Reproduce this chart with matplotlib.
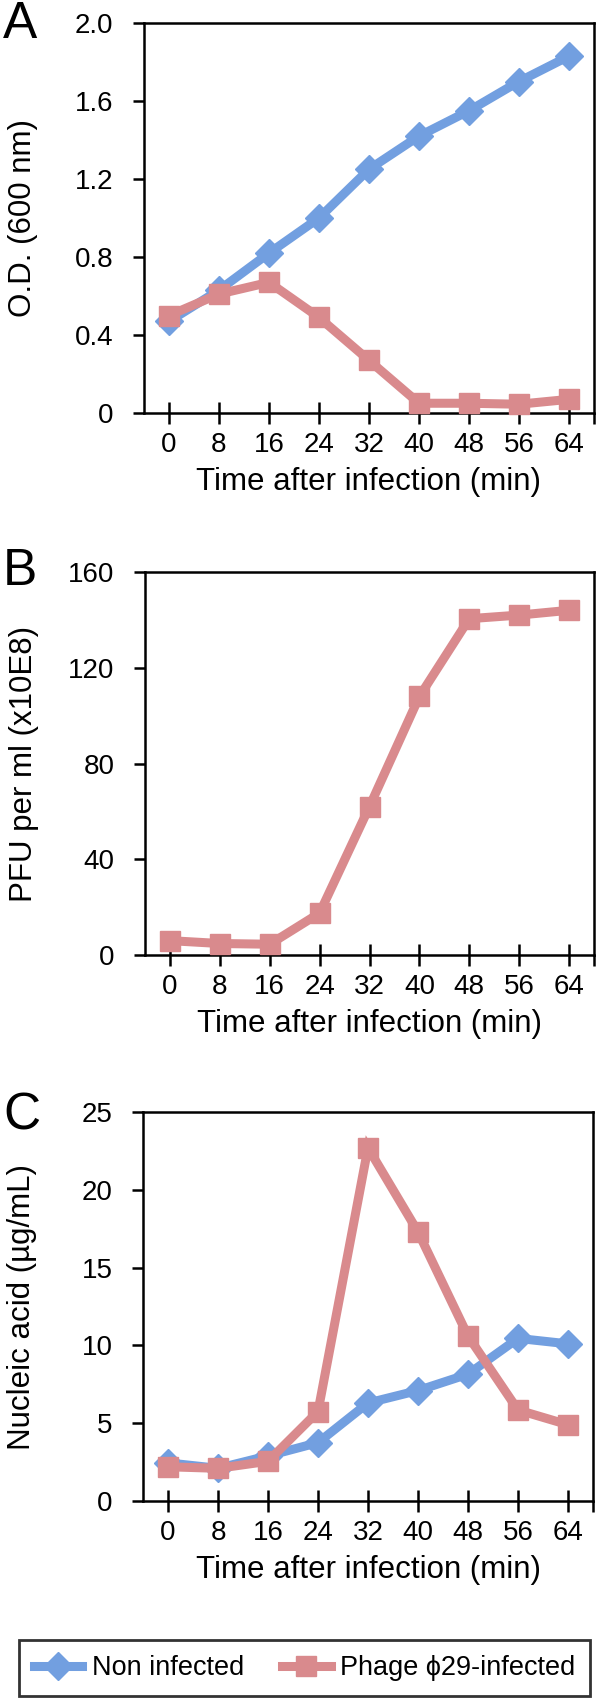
import matplotlib
matplotlib.use("Agg")
import matplotlib.pyplot as plt
from matplotlib.lines import Line2D

plt.rcParams['font.family'] = ['Liberation Sans', 'DejaVu Sans']

# ---- data ----
time_min = [0, 8, 16, 24, 32, 40, 48, 56, 64]
od_non_infected = [0.47, 0.63, 0.82, 1.00, 1.25, 1.42, 1.55, 1.70, 1.83]
od_phage = [0.50, 0.61, 0.67, 0.49, 0.27, 0.05, 0.05, 0.045, 0.07]
pfu_phage = [6.0, 4.8, 4.5, 17.5, 62.0, 108.0, 140.5, 142.0, 144.0]
na_non_infected = [2.45, 2.1, 2.9, 3.75, 6.3, 7.1, 8.15, 10.45, 10.1]
na_phage = [2.2, 2.1, 2.55, 5.75, 22.7, 17.3, 10.6, 5.85, 4.9]

ylabels = ["O.D. (600 nm)", "PFU per ml (x10E8)", "Nucleic acid (\u00b5g/mL)"]
yticks_a = [0, 0.4, 0.8, 1.2, 1.6, 2.0]
yticklabels_a = ["0", "0.4", "0.8", "1.2", "1.6", "2.0"]
yticks_b = [0, 40, 80, 120, 160]
yticks_c = [0, 5, 10, 15, 20, 25]
xlabel = "Time after infection (min)"
series_names = ["Non infected", "Phage \u03d529-infected"]
panel_letters = ["A", "B", "C"]

BLUE = "#729fe0"
RED = "#d98a8d"

W, H = 600, 1702
fig = plt.figure(figsize=(W / 100, H / 100), dpi=100)

def ax_rect(left, top, right, bottom):
    return [left / W, 1 - bottom / H, (right - left) / W, (bottom - top) / H]

rects = [ax_rect(144, 23, 594, 413), ax_rect(145, 572, 594, 955), ax_rect(143, 1112, 593, 1501)]
axes = [fig.add_axes(r) for r in rects]

LW = 6.5
kw_blue = dict(color=BLUE, lw=LW, marker='D', ms=14.5, mec=BLUE, mfc=BLUE, solid_joinstyle='miter')
kw_red = dict(color=RED, lw=LW, marker='s', ms=15, mec=RED, mfc=RED, solid_joinstyle='miter')

axA, axB, axC = axes
axA.plot(time_min, od_non_infected, **kw_blue, clip_on=False, zorder=3)
axA.plot(time_min, od_phage, **kw_red, clip_on=False, zorder=4)
axA.set_ylim(0, 2.0)
axA.set_yticks(yticks_a)
axA.set_yticklabels(yticklabels_a)

axB.plot(time_min, pfu_phage, **kw_red, clip_on=False, zorder=4)
axB.set_ylim(0, 160)
axB.set_yticks(yticks_b)

axC.plot(time_min, na_non_infected, **kw_blue, clip_on=False, zorder=3)
axC.plot(time_min, na_phage, **kw_red, clip_on=False, zorder=4)
axC.set_ylim(0, 25)
axC.set_yticks(yticks_c)

for ax, lab in zip(axes, ylabels):
    ax.set_xlim(-4, 68)
    ax.set_xticks(time_min)
    for s in ax.spines.values():
        s.set_linewidth(1.8)
        s.set_color('black')
    ax.tick_params(axis='x', direction='inout', length=16, width=1.8, pad=6, labelsize=20)
    ax.tick_params(axis='y', direction='out', length=8, width=1.8, pad=14, labelsize=20)
    ax.set_xlabel(xlabel, fontsize=22.5, labelpad=6)
    ax.set_ylabel(lab, fontsize=22.5)
    ax.yaxis.set_label_coords(-0.235, 0.5)
    # right border extends slightly below the x axis
    ax.plot([1, 1], [0, -0.028], transform=ax.transAxes, color='black', lw=1.8,
            clip_on=False, solid_capstyle='butt')

# panel letters
fig.text(3 / W, 1 - 38 / H, "A", fontsize=37, ha='left', va='baseline')
fig.text(3 / W, 1 - 585 / H, "B", fontsize=37, ha='left', va='baseline')
fig.text(3 / W, 1 - 1129 / H, "C", fontsize=37, ha='left', va='baseline')

# legend
handles = [Line2D([], [], **kw_blue), Line2D([], [], **kw_red)]
leg = fig.legend(handles, series_names, loc='center',
                 bbox_to_anchor=(304.5 / W, 1 - 1668 / H), ncol=2, fontsize=19.5,
                 frameon=True, fancybox=False, edgecolor='black',
                 handlelength=1.8, handletextpad=0.35, columnspacing=1.4,
                 borderpad=0.55, borderaxespad=0)
leg.get_frame().set_linewidth(2)

fig.savefig("out.png", dpi=100)
